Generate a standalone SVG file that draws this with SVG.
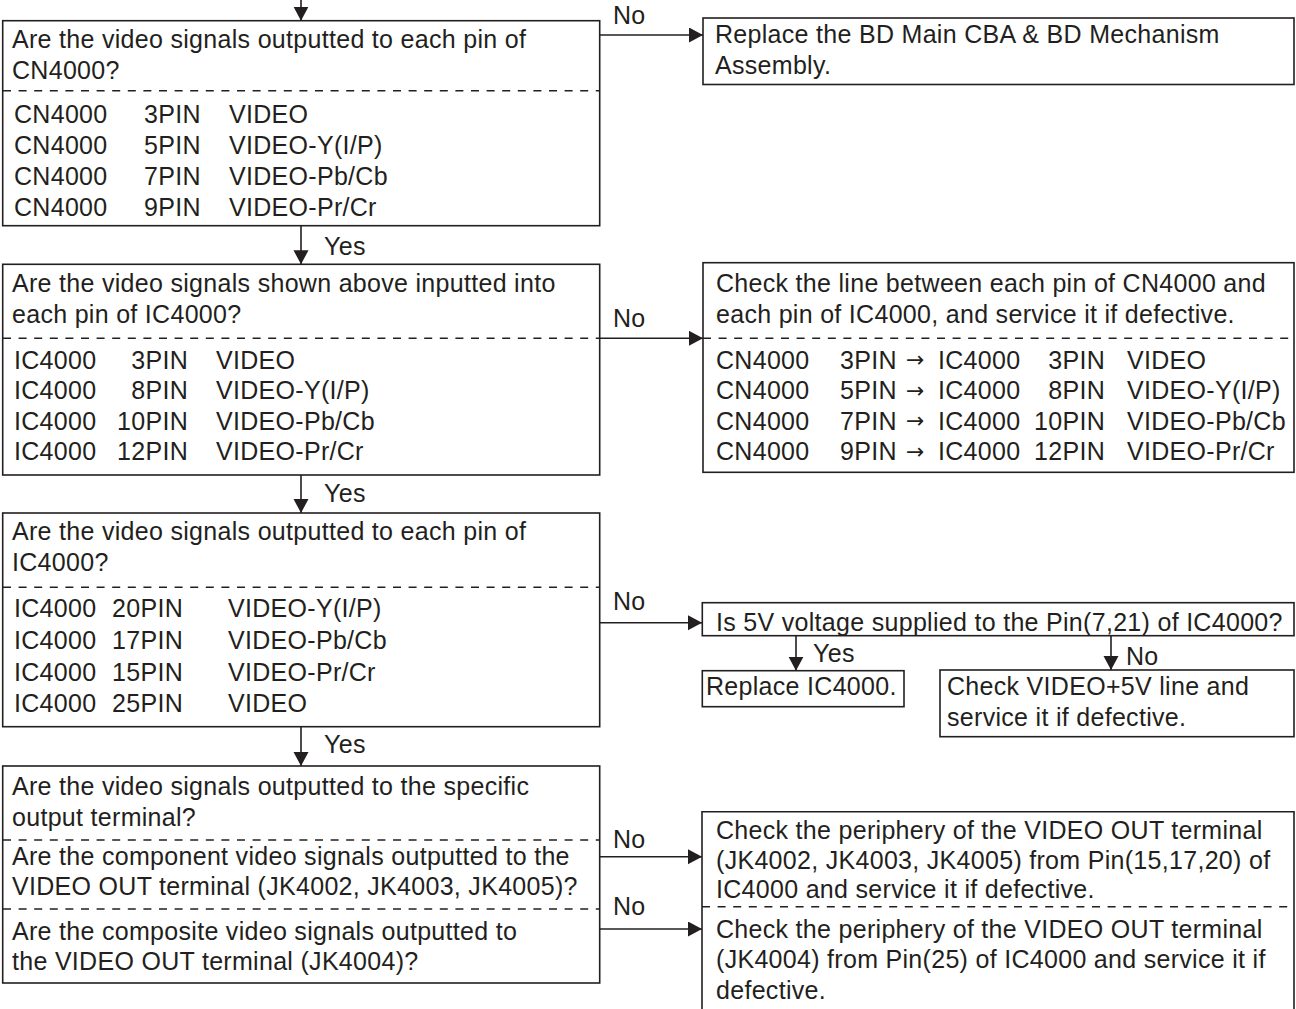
<svg xmlns="http://www.w3.org/2000/svg" width="1296" height="1009" viewBox="0 0 1296 1009">
<style>
.t{font-family:"Liberation Sans",Arial,Helvetica,sans-serif;font-size:25px;letter-spacing:0.3px;fill:#231f20}
.e{text-anchor:end}
.ar{font-family:"DejaVu Sans",sans-serif;font-size:22px;fill:#231f20}
.box{fill:#fff;stroke:#231f20;stroke-width:1.6}
.dash{stroke:#231f20;stroke-width:1.4;stroke-dasharray:8 7.6;fill:none}
.ln{stroke:#231f20;stroke-width:1.6;fill:none}
.c{stroke:#231f20;stroke-width:1.6;fill:none;marker-end:url(#ah)}
</style>
<defs>
<marker id="ah" markerUnits="userSpaceOnUse" markerWidth="15" markerHeight="16" refX="14" refY="7.5" orient="auto">
<path d="M0,0 L14,7.5 L0,15 Z" fill="#231f20"/>
</marker>
</defs>
<rect width="1296" height="1009" fill="#fff"/>

<g id="connectors">
<line class="c" x1="301" y1="0" x2="301" y2="20.7"/>
<line class="c" x1="600" y1="35" x2="703" y2="35"/>
<text class="t" x="613" y="24">No</text>
<line class="c" x1="301" y1="225.7" x2="301" y2="264.3"/>
<text class="t" x="324" y="255">Yes</text>
<line class="c" x1="600" y1="338.3" x2="703" y2="338.3"/>
<text class="t" x="613" y="327">No</text>
<line class="c" x1="301" y1="475" x2="301" y2="513"/>
<text class="t" x="324" y="502">Yes</text>
<line class="c" x1="600" y1="622.7" x2="702" y2="622.7"/>
<text class="t" x="613" y="610">No</text>
<line class="c" x1="796" y1="635.7" x2="796" y2="670.7"/>
<text class="t" x="813" y="662">Yes</text>
<line class="c" x1="1111" y1="635.7" x2="1111" y2="670"/>
<text class="t" x="1126" y="665">No</text>
<line class="c" x1="301" y1="726.7" x2="301" y2="766"/>
<text class="t" x="324" y="753">Yes</text>
<line class="c" x1="600" y1="856.7" x2="702" y2="856.7"/>
<text class="t" x="613" y="848">No</text>
<line class="c" x1="600" y1="929" x2="702" y2="929"/>
<text class="t" x="613" y="915">No</text>
</g>

<g id="q1">
<rect class="box" x="2.7" y="20.7" width="597" height="205"/>
<line class="dash" x1="3" y1="90.7" x2="599" y2="90.7"/>
<text class="t" x="12" y="48">Are the video signals outputted to each pin of</text>
<text class="t" x="12" y="79">CN4000?</text>
<text class="t" x="14" y="123">CN4000</text><text class="t" x="144" y="123">3PIN</text><text class="t" x="229" y="123">VIDEO</text>
<text class="t" x="14" y="154">CN4000</text><text class="t" x="144" y="154">5PIN</text><text class="t" x="229" y="154">VIDEO-Y(I/P)</text>
<text class="t" x="14" y="185">CN4000</text><text class="t" x="144" y="185">7PIN</text><text class="t" x="229" y="185">VIDEO-Pb/Cb</text>
<text class="t" x="14" y="216">CN4000</text><text class="t" x="144" y="216">9PIN</text><text class="t" x="229" y="216">VIDEO-Pr/Cr</text>
</g>

<g id="a1">
<rect class="box" x="703" y="18" width="591" height="66.5"/>
<text class="t" x="715" y="43">Replace the BD Main CBA &amp; BD Mechanism</text>
<text class="t" x="715" y="74">Assembly.</text>
</g>

<g id="q2">
<rect class="box" x="2.7" y="264.3" width="597" height="210.7"/>
<line class="dash" x1="3" y1="338.3" x2="599" y2="338.3"/>
<text class="t" x="12" y="292">Are the video signals shown above inputted into</text>
<text class="t" x="12" y="322.5">each pin of IC4000?</text>
<text class="t" x="14" y="368.5">IC4000</text><text class="t e" x="188" y="368.5">3PIN</text><text class="t" x="216" y="368.5">VIDEO</text>
<text class="t" x="14" y="399">IC4000</text><text class="t e" x="188" y="399">8PIN</text><text class="t" x="216" y="399">VIDEO-Y(I/P)</text>
<text class="t" x="14" y="429.5">IC4000</text><text class="t e" x="188" y="429.5">10PIN</text><text class="t" x="216" y="429.5">VIDEO-Pb/Cb</text>
<text class="t" x="14" y="460">IC4000</text><text class="t e" x="188" y="460">12PIN</text><text class="t" x="216" y="460">VIDEO-Pr/Cr</text>
</g>

<g id="a2">
<rect class="box" x="703" y="262.7" width="591" height="209.6"/>
<line class="dash" x1="703" y1="338.3" x2="1294" y2="338.3"/>
<text class="t" x="716" y="292">Check the line between each pin of CN4000 and</text>
<text class="t" x="716" y="322.5">each pin of IC4000, and service it if defective.</text>
<text class="t" x="716" y="368.5">CN4000</text><text class="t" x="840" y="368.5">3PIN</text><text class="ar" x="906" y="367">→</text><text class="t" x="938" y="368.5">IC4000</text><text class="t e" x="1105" y="368.5">3PIN</text><text class="t" x="1127" y="368.5">VIDEO</text>
<text class="t" x="716" y="399">CN4000</text><text class="t" x="840" y="399">5PIN</text><text class="ar" x="906" y="397.5">→</text><text class="t" x="938" y="399">IC4000</text><text class="t e" x="1105" y="399">8PIN</text><text class="t" x="1127" y="399">VIDEO-Y(I/P)</text>
<text class="t" x="716" y="429.5">CN4000</text><text class="t" x="840" y="429.5">7PIN</text><text class="ar" x="906" y="428">→</text><text class="t" x="938" y="429.5">IC4000</text><text class="t e" x="1105" y="429.5">10PIN</text><text class="t" x="1127" y="429.5">VIDEO-Pb/Cb</text>
<text class="t" x="716" y="460">CN4000</text><text class="t" x="840" y="460">9PIN</text><text class="ar" x="906" y="458.5">→</text><text class="t" x="938" y="460">IC4000</text><text class="t e" x="1105" y="460">12PIN</text><text class="t" x="1127" y="460">VIDEO-Pr/Cr</text>
</g>

<g id="q3">
<rect class="box" x="2.7" y="513" width="597" height="213.7"/>
<line class="dash" x1="3" y1="587.3" x2="599" y2="587.3"/>
<text class="t" x="12" y="540">Are the video signals outputted to each pin of</text>
<text class="t" x="12" y="571">IC4000?</text>
<text class="t" x="14" y="617">IC4000</text><text class="t" x="112" y="617">20PIN</text><text class="t" x="228" y="617">VIDEO-Y(I/P)</text>
<text class="t" x="14" y="649">IC4000</text><text class="t" x="112" y="649">17PIN</text><text class="t" x="228" y="649">VIDEO-Pb/Cb</text>
<text class="t" x="14" y="681">IC4000</text><text class="t" x="112" y="681">15PIN</text><text class="t" x="228" y="681">VIDEO-Pr/Cr</text>
<text class="t" x="14" y="712">IC4000</text><text class="t" x="112" y="712">25PIN</text><text class="t" x="228" y="712">VIDEO</text>
</g>

<g id="q5v">
<rect class="box" x="702.3" y="602.7" width="591.7" height="33"/>
<text class="t" x="716" y="631">Is 5V voltage supplied to the Pin(7,21) of IC4000?</text>
</g>

<g id="a3">
<rect class="box" x="702.3" y="670.7" width="201.7" height="36"/>
<text class="t" x="706" y="695">Replace IC4000.</text>
</g>

<g id="a4">
<rect class="box" x="940" y="670" width="354" height="66.7"/>
<text class="t" x="947" y="695">Check VIDEO+5V line and</text>
<text class="t" x="947" y="725.5">service it if defective.</text>
</g>

<g id="q4">
<rect class="box" x="2.7" y="766" width="597" height="217"/>
<line class="dash" x1="3" y1="840" x2="599" y2="840"/>
<line class="dash" x1="3" y1="909" x2="599" y2="909"/>
<text class="t" x="12" y="795">Are the video signals outputted to the specific</text>
<text class="t" x="12" y="826">output terminal?</text>
<text class="t" x="12" y="865">Are the component video signals outputted to the</text>
<text class="t" x="12" y="895">VIDEO OUT terminal (JK4002, JK4003, JK4005)?</text>
<text class="t" x="12" y="940">Are the composite video signals outputted to</text>
<text class="t" x="12" y="970">the VIDEO OUT terminal (JK4004)?</text>
</g>

<g id="a5">
<path class="ln" d="M702,1009 V811.7 H1294 V1009" fill="#fff"/>
<line class="dash" x1="702" y1="906.7" x2="1294" y2="906.7"/>
<text class="t" x="716" y="839">Check the periphery of the VIDEO OUT terminal</text>
<text class="t" x="716" y="868.5">(JK4002, JK4003, JK4005) from Pin(15,17,20) of</text>
<text class="t" x="716" y="898">IC4000 and service it if defective.</text>
<text class="t" x="716" y="937.5">Check the periphery of the VIDEO OUT terminal</text>
<text class="t" x="716" y="967.5">(JK4004) from Pin(25) of IC4000 and service it if</text>
<text class="t" x="716" y="998.5">defective.</text>
</g>
</svg>
